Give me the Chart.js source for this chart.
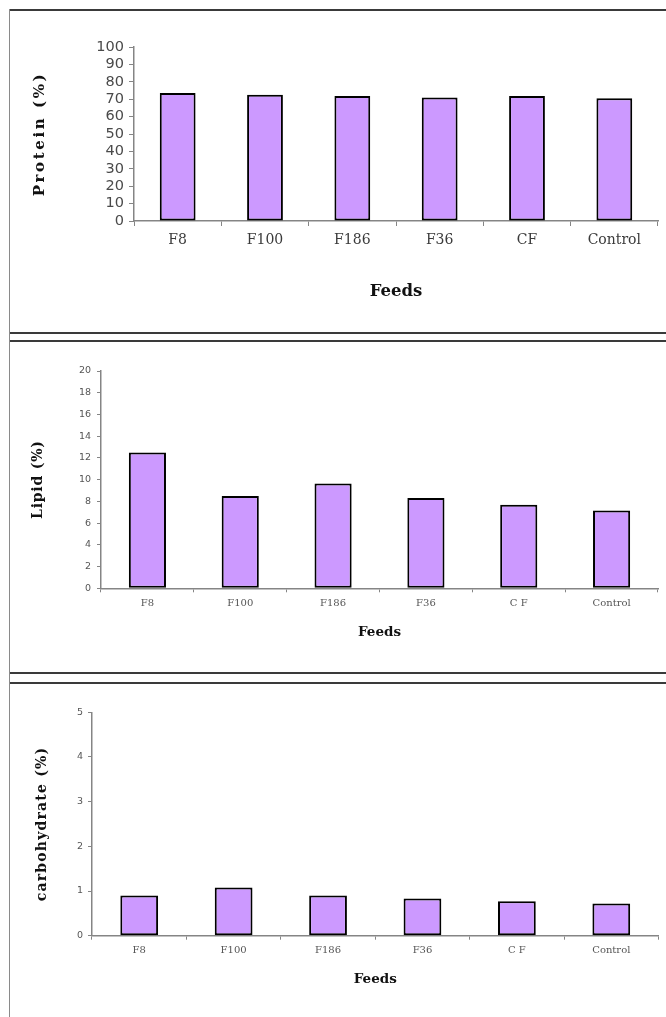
<!DOCTYPE html>
<html>
<head>
<meta charset="utf-8">
<script src="https://cdn.jsdelivr.net/npm/chart.js@4.4.1/dist/chart.umd.min.js"></script>
<style>
  html, body { margin: 0; padding: 0; background: #fff; }
  body { width: 666px; height: 1017px; position: relative; overflow: hidden; }
  canvas { position: absolute; left: 0; }
  .hl { position: absolute; left: 9px; width: 657px; background: #3a3a3a; z-index: 5; }
  .vl { position: absolute; left: 9px; top: 9px; width: 1px; height: 1008px; background: #8a8a8a; z-index: 5; }
</style>
</head>
<body>
<canvas id="c1" width="666" height="334" style="top:0px"></canvas>
<canvas id="c2" width="666" height="339" style="top:334px"></canvas>
<canvas id="c3" width="666" height="344" style="top:673px"></canvas>
<div class="hl" style="top:9px;height:2px"></div>
<div class="hl" style="top:332px;height:2px"></div>
<div class="hl" style="top:340px;height:1.5px"></div>
<div class="hl" style="top:672px;height:2px"></div>
<div class="hl" style="top:682px;height:1.5px"></div>
<div class="vl"></div>
<script>
// ---- data ----
const feedsTop = ['F8', 'F100', 'F186', 'F36', 'CF', 'Control'];
const feedsLower = ['F8', 'F100', 'F186', 'F36', 'C F', 'Control'];
const protein = [73.5, 72.5, 71.8, 71.0, 71.8, 70.5];
const lipid = [12.5, 8.5, 9.65, 8.3, 7.7, 7.15];
const carbohydrate = [0.9, 1.08, 0.9, 0.83, 0.77, 0.72];
const yMax = [100, 20, 5];
const yStep = [10, 2, 1];
const yTitles = ['Protein (%)', 'Lipid (%)', 'carbohydrate (%)'];
const xTitle = 'Feeds';

const BAR_FILL = '#CC99FF';
const AXIS = '#858585';

function letterSpacedTitle(spacing) {
  return {
    id: 'lsTitle',
    beforeDraw(chart) {
      const s = chart.scales.y;
      if (s && !s._lsPatched) {
        const orig = s.drawTitle;
        s.drawTitle = function () {
          const ctx = this.ctx;
          ctx.save();
          try { ctx.letterSpacing = spacing + 'px'; } catch (e) {}
          orig.apply(this, arguments);
          ctx.restore();
        };
        s._lsPatched = true;
      }
    }
  };
}

function makeChart(id, labels, values, idx, g) {
  new Chart(document.getElementById(id), {
    type: 'bar',
    data: {
      labels: labels,
      datasets: [{
        data: values,
        backgroundColor: BAR_FILL,
        borderColor: '#000',
        borderWidth: 2,
        borderSkipped: false,
        barPercentage: g.barPct,
        categoryPercentage: 1.0
      }]
    },
    options: {
      responsive: false,
      animation: false,
      devicePixelRatio: 1,
      layout: { padding: { left: g.padL, right: g.padR, top: g.padT, bottom: g.padB } },
      plugins: { legend: { display: false }, tooltip: { enabled: false } },
      scales: {
        x: {
          grid: { offset: true, drawOnChartArea: false, drawTicks: true, tickLength: g.xTick, color: AXIS, lineWidth: 1 },
          border: { display: true, color: AXIS, width: 1.5 },
          ticks: { color: g.xTickColor, padding: g.xTickPad, maxRotation: 0, autoSkip: false,
                   font: { family: 'DejaVu Serif', size: g.xTickSize } },
          title: { display: true, text: xTitle, color: '#111', padding: 0,
                   font: { family: 'DejaVu Serif', weight: 'bold', size: g.xTitleSize } },
          afterFit(scale) { scale.height = g.xH; }
        },
        y: {
          min: 0, max: yMax[idx],
          ticks: { stepSize: yStep[idx], autoSkip: false, color: g.yTickColor, padding: g.yTickPad,
                   font: { family: 'DejaVu Sans', size: g.yTickSize } },
          grid: { drawOnChartArea: false, drawTicks: true, tickLength: g.yTick, color: AXIS, lineWidth: 1 },
          border: { display: true, color: AXIS, width: 1.5 },
          title: { display: true, text: yTitles[idx], color: '#111', padding: 0,
                   font: { family: 'DejaVu Serif', weight: 'bold', size: g.yTitleSize } },
          afterFit(scale) { scale.width = g.yW; }
        }
      }
    },
    plugins: [letterSpacedTitle(g.ls)]
  });
}

makeChart('c1', feedsTop, protein, 0, {
  padL: 31, padR: 8, padT: 47, padB: 32.4, yW: 103, xH: 80.6,
  barPct: 0.41, xTick: 5, xTickPad: 5.6, xTickSize: 14, xTickColor: '#3a3a3a',
  xTitleSize: 16.5, yTick: 5, yTickPad: 5, yTickSize: 14.5, yTickColor: '#4a4a4a',
  yTitleSize: 15, ls: 2.6
});
makeChart('c2', feedsLower, lipid, 1, {
  padL: 29.5, padR: 8, padT: 37, padB: 32.9, yW: 71.5, xH: 51.8,
  barPct: 0.40, xTick: 4, xTickPad: 5, xTickSize: 10, xTickColor: '#555',
  xTitleSize: 13.5, yTick: 4, yTickPad: 6, yTickSize: 9.5, yTickColor: '#555',
  yTitleSize: 14, ls: 0.8
});
makeChart('c3', feedsLower, carbohydrate, 2, {
  padL: 33.6, padR: 7.5, padT: 39.3, padB: 29.9, yW: 58.4, xH: 51.4,
  barPct: 0.40, xTick: 4, xTickPad: 4.3, xTickSize: 10, xTickColor: '#555',
  xTitleSize: 13.5, yTick: 4, yTickPad: 5, yTickSize: 9.5, yTickColor: '#555',
  yTitleSize: 14, ls: 1.2
});
</script>
</body>
</html>
